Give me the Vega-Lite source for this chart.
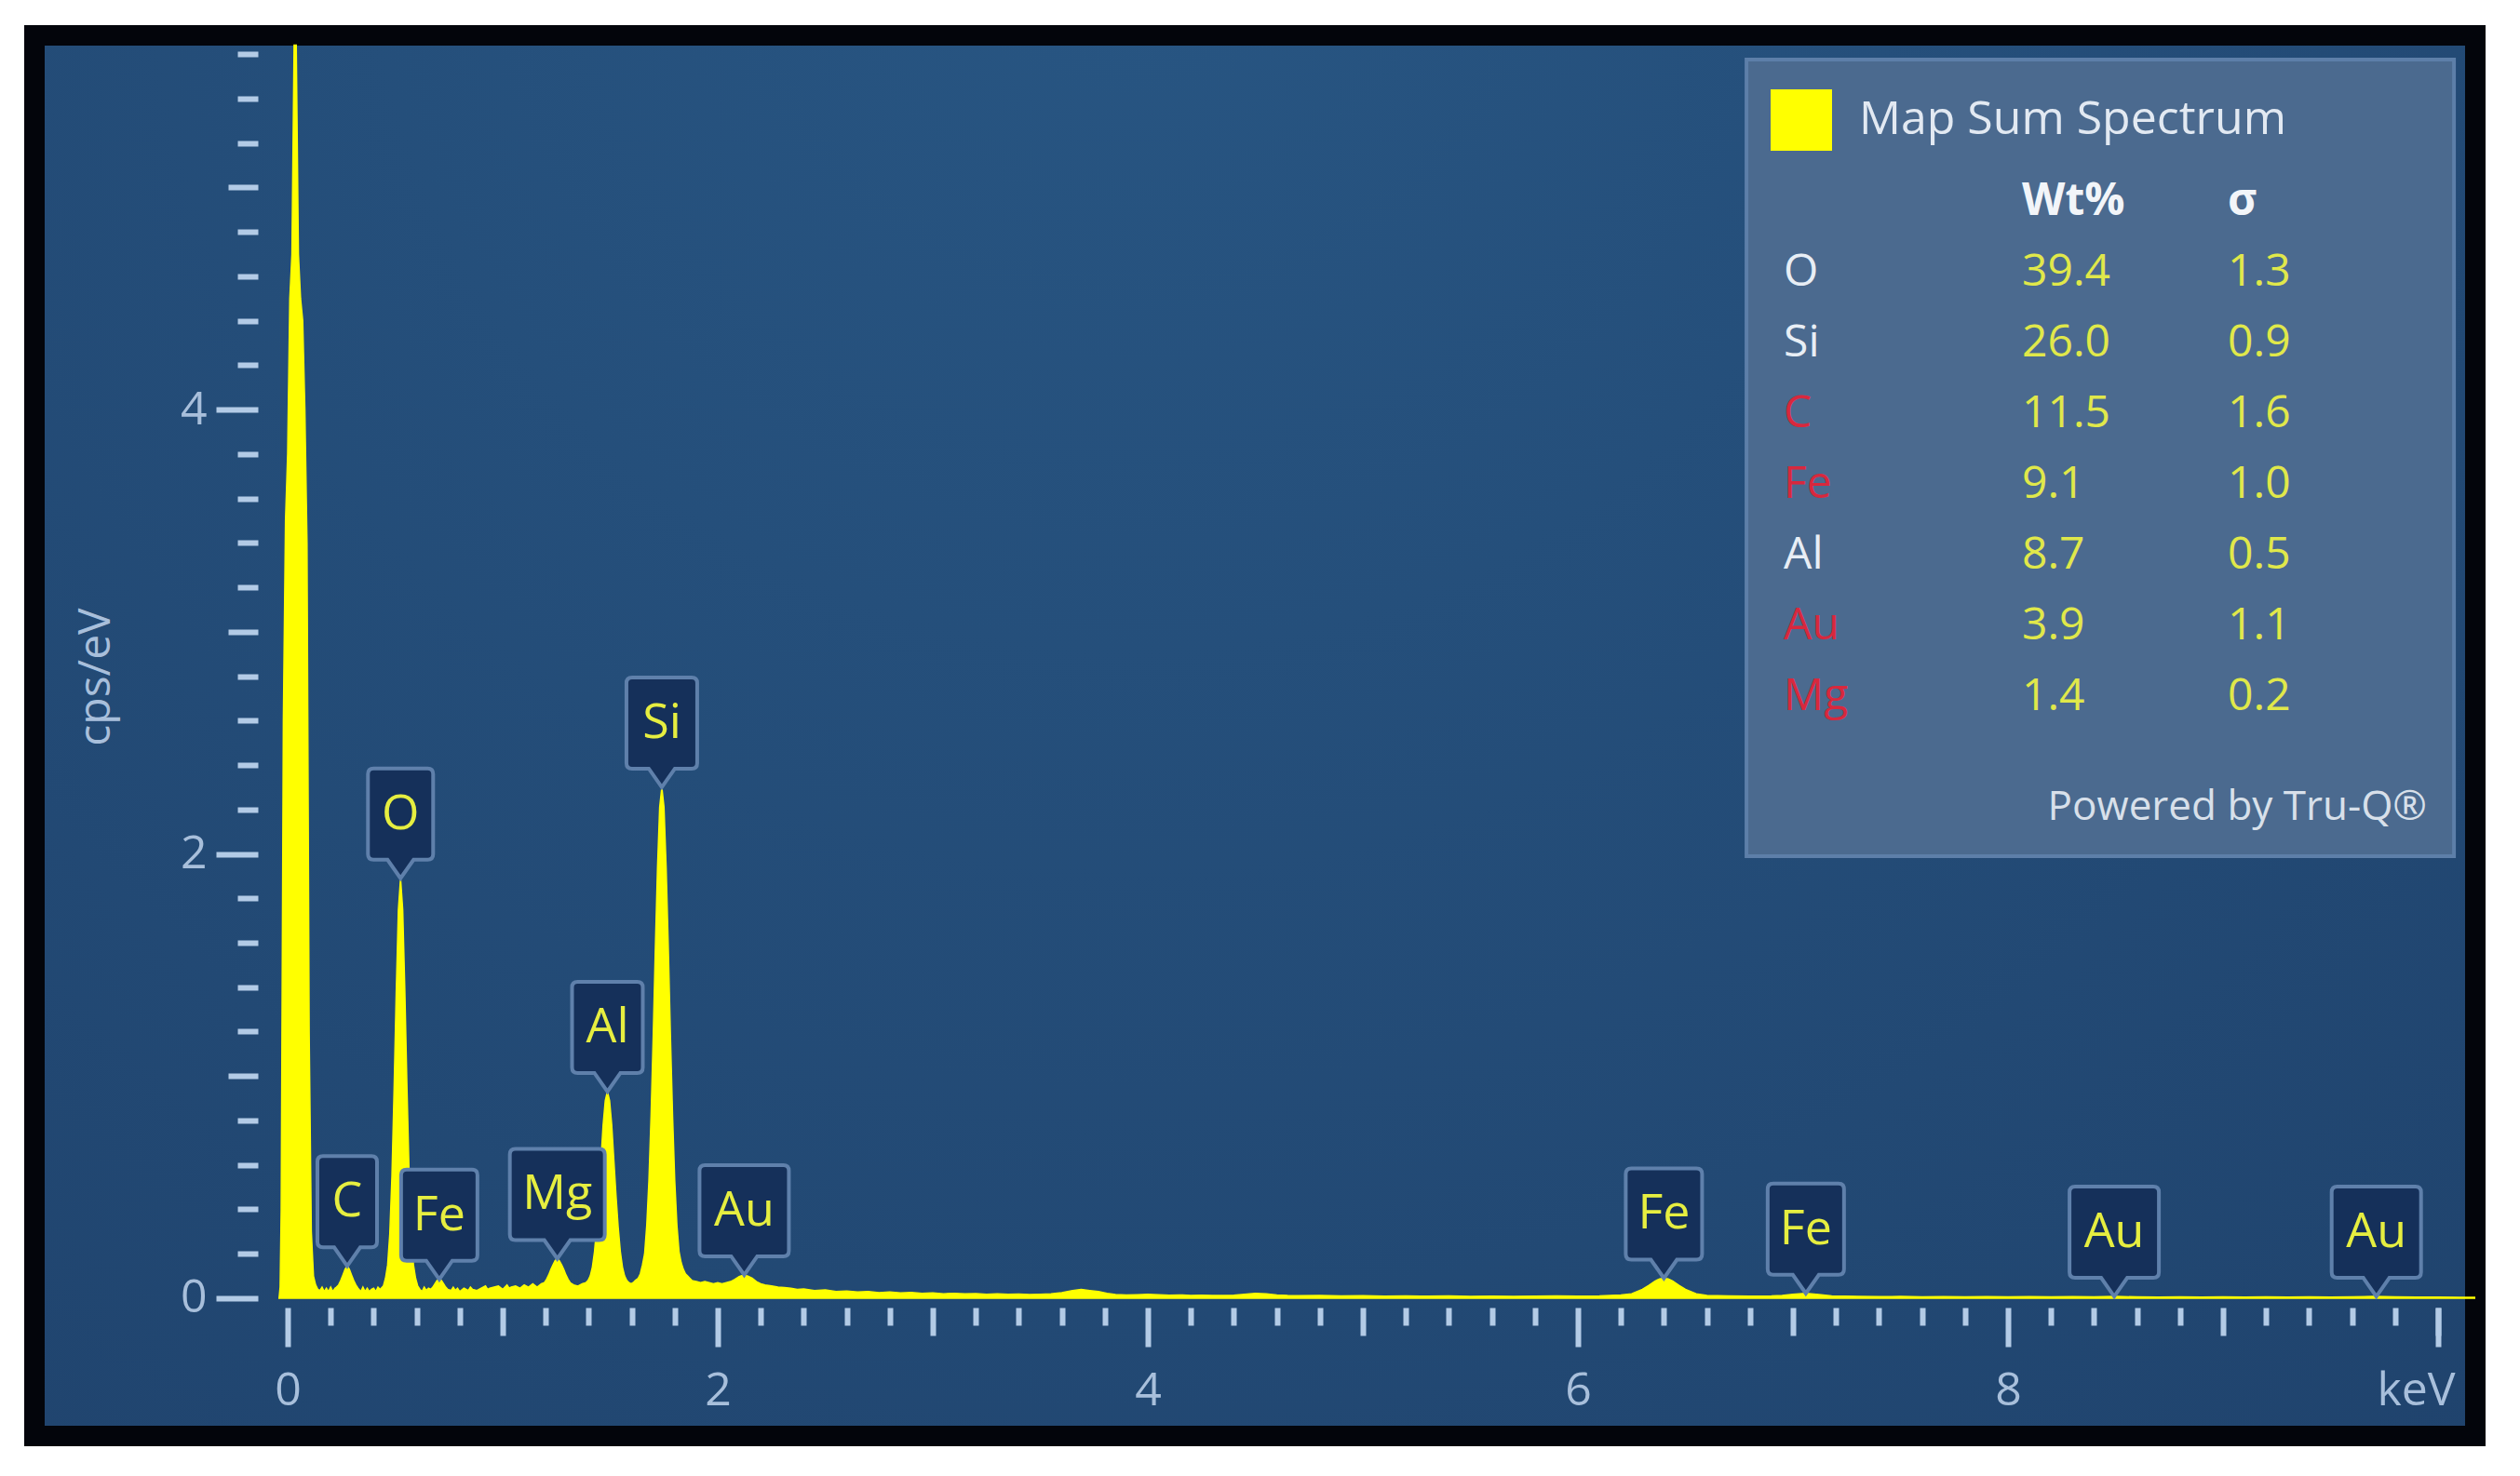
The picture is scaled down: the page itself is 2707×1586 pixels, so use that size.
{
  "$schema": "https://vega.github.io/schema/vega-lite/v6.json",
  "width": 2622,
  "height": 1505,
  "autosize": {"type": "none"},
  "padding": {"left": 37, "top": 38, "right": 48, "bottom": 43},
  "background": "#ffffff",
  "view": {
    "fill": {"gradient": "radial", "x1": 0.45, "y1": 0.15, "r1": 0, "x2": 0.45, "y2": 0.15, "r2": 0.9,
      "stops": [{"offset": 0, "color": "#285683"}, {"offset": 1, "color": "#1f426c"}]},
    "stroke": "#03050b",
    "strokeWidth": 22
  },
  "config": {"font": "Open Sans"},
  "datasets": {
    "spectrum": [
      {"energy": -0.04, "cps": 0}, {"energy": -0.035, "cps": 0.05}, {"energy": -0.03, "cps": 0.4}, {"energy": -0.02, "cps": 2.6}, {"energy": -0.01, "cps": 3.5},
      {"energy": 0.0, "cps": 3.8}, {"energy": 0.01, "cps": 4.5}, {"energy": 0.02, "cps": 4.7}, {"energy": 0.03, "cps": 5.64},
      {"energy": 0.04, "cps": 5.64}, {"energy": 0.05, "cps": 4.7}, {"energy": 0.06, "cps": 4.5}, {"energy": 0.07, "cps": 4.4},
      {"energy": 0.08, "cps": 4.0}, {"energy": 0.09, "cps": 3.4}, {"energy": 0.10, "cps": 1.2}, {"energy": 0.11, "cps": 0.3},
      {"energy": 0.12, "cps": 0.1}, {"energy": 0.13, "cps": 0.06}, {"energy": 0.14, "cps": 0.04}, {"energy": 0.15, "cps": 0.035},
      {"energy": 0.16, "cps": 0.05}, {"energy": 0.17, "cps": 0.03}, {"energy": 0.18, "cps": 0.045}, {"energy": 0.19, "cps": 0.03},
      {"energy": 0.20, "cps": 0.05}, {"energy": 0.21, "cps": 0.03}, {"energy": 0.22, "cps": 0.045}, {"energy": 0.227, "cps": 0.05},
      {"energy": 0.237, "cps": 0.06}, {"energy": 0.247, "cps": 0.08}, {"energy": 0.257, "cps": 0.105}, {"energy": 0.267, "cps": 0.13},
      {"energy": 0.277, "cps": 0.145}, {"energy": 0.287, "cps": 0.13}, {"energy": 0.297, "cps": 0.105}, {"energy": 0.307, "cps": 0.08},
      {"energy": 0.317, "cps": 0.06}, {"energy": 0.327, "cps": 0.045}, {"energy": 0.34, "cps": 0.03}, {"energy": 0.35, "cps": 0.05},
      {"energy": 0.36, "cps": 0.03}, {"energy": 0.37, "cps": 0.045}, {"energy": 0.38, "cps": 0.03}, {"energy": 0.39, "cps": 0.04},
      {"energy": 0.40, "cps": 0.045}, {"energy": 0.41, "cps": 0.03}, {"energy": 0.42, "cps": 0.05}, {"energy": 0.43, "cps": 0.04},
      {"energy": 0.445, "cps": 0.055}, {"energy": 0.455, "cps": 0.09}, {"energy": 0.465, "cps": 0.15}, {"energy": 0.475, "cps": 0.29},
      {"energy": 0.485, "cps": 0.55}, {"energy": 0.495, "cps": 0.94}, {"energy": 0.505, "cps": 1.38}, {"energy": 0.515, "cps": 1.75},
      {"energy": 0.525, "cps": 1.89}, {"energy": 0.535, "cps": 1.75}, {"energy": 0.545, "cps": 1.38}, {"energy": 0.555, "cps": 0.94},
      {"energy": 0.565, "cps": 0.55}, {"energy": 0.575, "cps": 0.29}, {"energy": 0.585, "cps": 0.15}, {"energy": 0.595, "cps": 0.09},
      {"energy": 0.605, "cps": 0.055}, {"energy": 0.615, "cps": 0.04}, {"energy": 0.625, "cps": 0.03}, {"energy": 0.635, "cps": 0.05},
      {"energy": 0.645, "cps": 0.035}, {"energy": 0.655, "cps": 0.045}, {"energy": 0.665, "cps": 0.04}, {"energy": 0.675, "cps": 0.05},
      {"energy": 0.685, "cps": 0.065}, {"energy": 0.695, "cps": 0.08}, {"energy": 0.705, "cps": 0.085}, {"energy": 0.715, "cps": 0.08},
      {"energy": 0.725, "cps": 0.065}, {"energy": 0.735, "cps": 0.05}, {"energy": 0.745, "cps": 0.04}, {"energy": 0.76, "cps": 0.035},
      {"energy": 0.77, "cps": 0.05}, {"energy": 0.78, "cps": 0.035}, {"energy": 0.79, "cps": 0.045}, {"energy": 0.80, "cps": 0.03},
      {"energy": 0.82, "cps": 0.045}, {"energy": 0.84, "cps": 0.035}, {"energy": 0.85, "cps": 0.05},
      {"energy": 0.86, "cps": 0.04}, {"energy": 0.88, "cps": 0.035}, {"energy": 0.90, "cps": 0.045}, {"energy": 0.92, "cps": 0.055},
      {"energy": 0.93, "cps": 0.04}, {"energy": 0.94, "cps": 0.045}, {"energy": 0.96, "cps": 0.05}, {"energy": 0.98, "cps": 0.055}, {"energy": 1.00, "cps": 0.04},
      {"energy": 1.02, "cps": 0.06}, {"energy": 1.03, "cps": 0.045}, {"energy": 1.04, "cps": 0.05}, {"energy": 1.06, "cps": 0.055}, {"energy": 1.08, "cps": 0.045},
      {"energy": 1.10, "cps": 0.06}, {"energy": 1.12, "cps": 0.05}, {"energy": 1.14, "cps": 0.065}, {"energy": 1.16, "cps": 0.05},
      {"energy": 1.18, "cps": 0.065}, {"energy": 1.194, "cps": 0.07}, {"energy": 1.204, "cps": 0.085}, {"energy": 1.214, "cps": 0.105},
      {"energy": 1.224, "cps": 0.13}, {"energy": 1.234, "cps": 0.15}, {"energy": 1.244, "cps": 0.17}, {"energy": 1.254, "cps": 0.178},
      {"energy": 1.264, "cps": 0.168}, {"energy": 1.274, "cps": 0.15}, {"energy": 1.284, "cps": 0.13}, {"energy": 1.294, "cps": 0.105},
      {"energy": 1.304, "cps": 0.085}, {"energy": 1.314, "cps": 0.07}, {"energy": 1.33, "cps": 0.06}, {"energy": 1.35, "cps": 0.055},
      {"energy": 1.37, "cps": 0.065}, {"energy": 1.387, "cps": 0.07}, {"energy": 1.397, "cps": 0.08}, {"energy": 1.407, "cps": 0.10},
      {"energy": 1.417, "cps": 0.14}, {"energy": 1.427, "cps": 0.21}, {"energy": 1.437, "cps": 0.32}, {"energy": 1.447, "cps": 0.46},
      {"energy": 1.457, "cps": 0.62}, {"energy": 1.467, "cps": 0.78}, {"energy": 1.477, "cps": 0.89}, {"energy": 1.487, "cps": 0.93},
      {"energy": 1.497, "cps": 0.89}, {"energy": 1.507, "cps": 0.78}, {"energy": 1.517, "cps": 0.62}, {"energy": 1.527, "cps": 0.46},
      {"energy": 1.537, "cps": 0.32}, {"energy": 1.547, "cps": 0.21}, {"energy": 1.557, "cps": 0.14}, {"energy": 1.567, "cps": 0.10},
      {"energy": 1.577, "cps": 0.08}, {"energy": 1.587, "cps": 0.07}, {"energy": 1.597, "cps": 0.065}, {"energy": 1.607, "cps": 0.07},
      {"energy": 1.617, "cps": 0.08}, {"energy": 1.63, "cps": 0.09}, {"energy": 1.64, "cps": 0.11}, {"energy": 1.65, "cps": 0.15},
      {"energy": 1.66, "cps": 0.20}, {"energy": 1.67, "cps": 0.33}, {"energy": 1.68, "cps": 0.53}, {"energy": 1.69, "cps": 0.82},
      {"energy": 1.70, "cps": 1.18}, {"energy": 1.71, "cps": 1.58}, {"energy": 1.72, "cps": 1.94}, {"energy": 1.73, "cps": 2.21},
      {"energy": 1.74, "cps": 2.30}, {"energy": 1.75, "cps": 2.21}, {"energy": 1.76, "cps": 1.94}, {"energy": 1.77, "cps": 1.58},
      {"energy": 1.78, "cps": 1.18}, {"energy": 1.79, "cps": 0.82}, {"energy": 1.80, "cps": 0.53}, {"energy": 1.81, "cps": 0.33},
      {"energy": 1.82, "cps": 0.21}, {"energy": 1.83, "cps": 0.16}, {"energy": 1.84, "cps": 0.13}, {"energy": 1.85, "cps": 0.11},
      {"energy": 1.86, "cps": 0.10}, {"energy": 1.87, "cps": 0.09}, {"energy": 1.88, "cps": 0.08}, {"energy": 1.90, "cps": 0.075},
      {"energy": 1.92, "cps": 0.07}, {"energy": 1.94, "cps": 0.075}, {"energy": 1.96, "cps": 0.07}, {"energy": 1.98, "cps": 0.065},
      {"energy": 2.00, "cps": 0.07}, {"energy": 2.02, "cps": 0.065}, {"energy": 2.04, "cps": 0.07}, {"energy": 2.06, "cps": 0.075},
      {"energy": 2.08, "cps": 0.085}, {"energy": 2.10, "cps": 0.098}, {"energy": 2.12, "cps": 0.105}, {"energy": 2.14, "cps": 0.10},
      {"energy": 2.16, "cps": 0.09}, {"energy": 2.18, "cps": 0.075}, {"energy": 2.20, "cps": 0.065}, {"energy": 2.22, "cps": 0.06},
      {"energy": 2.25, "cps": 0.055}, {"energy": 2.28, "cps": 0.05}, {"energy": 2.31, "cps": 0.048}, {"energy": 2.34, "cps": 0.045},
      {"energy": 2.37, "cps": 0.04}, {"energy": 2.40, "cps": 0.042}, {"energy": 2.45, "cps": 0.035}, {"energy": 2.50, "cps": 0.038},
      {"energy": 2.55, "cps": 0.03}, {"energy": 2.60, "cps": 0.032}, {"energy": 2.65, "cps": 0.028}, {"energy": 2.70, "cps": 0.03},
      {"energy": 2.75, "cps": 0.025}, {"energy": 2.80, "cps": 0.028}, {"energy": 2.85, "cps": 0.024}, {"energy": 2.90, "cps": 0.026},
      {"energy": 2.95, "cps": 0.022}, {"energy": 3.00, "cps": 0.024}, {"energy": 3.05, "cps": 0.02}, {"energy": 3.10, "cps": 0.022},
      {"energy": 3.15, "cps": 0.02}, {"energy": 3.20, "cps": 0.021}, {"energy": 3.25, "cps": 0.018}, {"energy": 3.30, "cps": 0.02},
      {"energy": 3.35, "cps": 0.018}, {"energy": 3.40, "cps": 0.019}, {"energy": 3.45, "cps": 0.017}, {"energy": 3.50, "cps": 0.018},
      {"energy": 3.55, "cps": 0.02}, {"energy": 3.60, "cps": 0.025}, {"energy": 3.65, "cps": 0.035}, {"energy": 3.69, "cps": 0.04},
      {"energy": 3.73, "cps": 0.035}, {"energy": 3.77, "cps": 0.03}, {"energy": 3.81, "cps": 0.022}, {"energy": 3.85, "cps": 0.017},
      {"energy": 3.90, "cps": 0.015}, {"energy": 3.95, "cps": 0.016}, {"energy": 4.00, "cps": 0.018}, {"energy": 4.05, "cps": 0.016},
      {"energy": 4.10, "cps": 0.014}, {"energy": 4.15, "cps": 0.015}, {"energy": 4.20, "cps": 0.013}, {"energy": 4.25, "cps": 0.014},
      {"energy": 4.30, "cps": 0.012}, {"energy": 4.35, "cps": 0.013}, {"energy": 4.40, "cps": 0.014}, {"energy": 4.45, "cps": 0.018},
      {"energy": 4.50, "cps": 0.022}, {"energy": 4.55, "cps": 0.02}, {"energy": 4.60, "cps": 0.015}, {"energy": 4.65, "cps": 0.012},
      {"energy": 4.70, "cps": 0.011}, {"energy": 4.80, "cps": 0.012}, {"energy": 4.90, "cps": 0.01}, {"energy": 5.00, "cps": 0.011},
      {"energy": 5.10, "cps": 0.009}, {"energy": 5.20, "cps": 0.01}, {"energy": 5.30, "cps": 0.009}, {"energy": 5.40, "cps": 0.01},
      {"energy": 5.50, "cps": 0.008}, {"energy": 5.60, "cps": 0.009}, {"energy": 5.70, "cps": 0.008}, {"energy": 5.80, "cps": 0.009},
      {"energy": 5.90, "cps": 0.01}, {"energy": 6.00, "cps": 0.009}, {"energy": 6.10, "cps": 0.01}, {"energy": 6.20, "cps": 0.015},
      {"energy": 6.25, "cps": 0.02}, {"energy": 6.30, "cps": 0.04}, {"energy": 6.33, "cps": 0.058}, {"energy": 6.36, "cps": 0.078},
      {"energy": 6.38, "cps": 0.087}, {"energy": 6.40, "cps": 0.09}, {"energy": 6.42, "cps": 0.087}, {"energy": 6.44, "cps": 0.078},
      {"energy": 6.47, "cps": 0.058}, {"energy": 6.50, "cps": 0.04}, {"energy": 6.55, "cps": 0.02}, {"energy": 6.60, "cps": 0.013},
      {"energy": 6.70, "cps": 0.01}, {"energy": 6.80, "cps": 0.009}, {"energy": 6.90, "cps": 0.01}, {"energy": 6.95, "cps": 0.012},
      {"energy": 7.00, "cps": 0.018}, {"energy": 7.06, "cps": 0.022}, {"energy": 7.12, "cps": 0.017}, {"energy": 7.18, "cps": 0.01},
      {"energy": 7.30, "cps": 0.008}, {"energy": 7.40, "cps": 0.007}, {"energy": 7.50, "cps": 0.008}, {"energy": 7.60, "cps": 0.006},
      {"energy": 7.70, "cps": 0.007}, {"energy": 7.80, "cps": 0.006}, {"energy": 7.90, "cps": 0.007}, {"energy": 8.00, "cps": 0.006},
      {"energy": 8.10, "cps": 0.007}, {"energy": 8.20, "cps": 0.006}, {"energy": 8.30, "cps": 0.007}, {"energy": 8.40, "cps": 0.006},
      {"energy": 8.50, "cps": 0.008}, {"energy": 8.60, "cps": 0.006}, {"energy": 8.70, "cps": 0.005}, {"energy": 8.80, "cps": 0.006},
      {"energy": 8.90, "cps": 0.005}, {"energy": 9.00, "cps": 0.006}, {"energy": 9.10, "cps": 0.005}, {"energy": 9.20, "cps": 0.006},
      {"energy": 9.30, "cps": 0.005}, {"energy": 9.40, "cps": 0.006}, {"energy": 9.50, "cps": 0.005}, {"energy": 9.60, "cps": 0.006},
      {"energy": 9.70, "cps": 0.008}, {"energy": 9.80, "cps": 0.006}, {"energy": 9.90, "cps": 0.005}, {"energy": 10.00, "cps": 0.005},
      {"energy": 10.10, "cps": 0.004}, {"energy": 10.17, "cps": 0.004}
    ],
    "peaks": [
      {"element": "C", "energy": 0.277, "height": 0.145},
      {"element": "O", "energy": 0.525, "height": 1.89},
      {"element": "Fe", "energy": 0.705, "height": 0.085},
      {"element": "Mg", "energy": 1.254, "height": 0.178},
      {"element": "Al", "energy": 1.487, "height": 0.93},
      {"element": "Si", "energy": 1.74, "height": 2.3},
      {"element": "Au", "energy": 2.123, "height": 0.105},
      {"element": "Fe", "energy": 6.4, "height": 0.09},
      {"element": "Fe", "energy": 7.06, "height": 0.022},
      {"element": "Au", "energy": 8.494, "height": 0.008},
      {"element": "Au", "energy": 9.713, "height": 0.008}
    ],
    "quant": [
      {"element": "O", "wt": 39.4, "sigma": 1.3},
      {"element": "Si", "wt": 26.0, "sigma": 0.9},
      {"element": "C", "wt": 11.5, "sigma": 1.6},
      {"element": "Fe", "wt": 9.1, "sigma": 1.0},
      {"element": "Al", "wt": 8.7, "sigma": 0.5},
      {"element": "Au", "wt": 3.9, "sigma": 1.1},
      {"element": "Mg", "wt": 1.4, "sigma": 0.2}
    ]
  },
  "layer": [
    {
      "layer": [
        {
          "data": {"name": "spectrum"},
          "mark": {"type": "area", "fill": "#ffff00", "stroke": "#ffff00", "strokeWidth": 1.5, "opacity": 1},
          "encoding": {
            "x": {
              "field": "energy", "type": "quantitative",
              "scale": {"domain": [-1.1775, 10.1732], "nice": false, "zero": false},
              "axis": {
                "orient": "bottom", "offset": -138, "title": null, "domain": false, "grid": false,
                "values": [0, 2, 4, 6, 8, 10],
                "tickColor": "#b3cbe6", "tickWidth": 6, "tickSize": 42,
                "labelExpr": "datum.value == 10 ? '' : '' + datum.value",
                "labelFont": "Open Sans", "labelFontSize": 50, "labelColor": "#a8bfdb", "labelPadding": 22,
                "labelOverlap": false, "labelFlush": false, "labelBound": false
              }
            },
            "y": {
              "field": "cps", "type": "quantitative",
              "scale": {"domain": [-0.62, 5.684], "nice": false, "zero": false},
              "axis": {
                "orient": "left", "offset": -240, "title": "cps/eV", "domain": false, "grid": false,
                "values": [0, 2, 4],
                "tickColor": "#b3cbe6", "tickWidth": 6, "tickSize": 45,
                "labelExpr": "'' + datum.value",
                "labelFont": "Open Sans", "labelFontSize": 50, "labelColor": "#a8bfdb", "labelPadding": 10,
                "labelOverlap": false, "labelFlush": false, "labelBound": false,
                "titleFont": "Open Sans", "titleFontSize": 48, "titleFontWeight": "normal", "titleColor": "#a8bfdb",
                "titleX": -174, "titleY": 689, "titleAngle": -90, "titleBaseline": "middle", "titleAlign": "center"
              }
            },
            "color": {
              "datum": "Map Sum Spectrum", "type": "nominal",
              "scale": {"range": ["#ffff00"]},
              "legend": {
                "orient": "none", "legendX": 1865, "legendY": 58, "title": null, "padding": 0,
                "symbolType": "square", "symbolSize": 4356, "symbolStrokeWidth": 0, "symbolOpacity": 1,
                "labelFont": "Open Sans", "labelFontSize": 50, "labelColor": "#e2e9f2", "labelOffset": 29, "labelLimit": 0
              }
            }
          }
        },
        {
          "data": {"name": "peaks"},
          "mark": {"type": "point", "filled": true, "fill": "#15305a", "stroke": "#5f80ab", "strokeWidth": 4, "size": 4, "opacity": 1},
          "encoding": {
            "x": {
              "field": "energy", "type": "quantitative",
              "scale": {"domain": [-1.1775, 10.1732], "nice": false, "zero": false},
              "axis": {
                "orient": "bottom", "offset": -138, "title": null, "domain": false, "grid": false,
                "values": [1, 3, 5, 7, 9, 10],
                "tickColor": "#b3cbe6", "tickWidth": 6, "tickSize": 30,
                "labelExpr": "datum.value == 10 ? 'keV' : ''",
                "labelOffset": -24,
                "labelFont": "Open Sans", "labelFontSize": 50, "labelColor": "#a8bfdb", "labelPadding": 34,
                "labelOverlap": false, "labelFlush": false, "labelBound": false
              }
            },
            "y": {
              "field": "height", "type": "quantitative",
              "scale": {"domain": [-0.62, 5.684], "nice": false, "zero": false},
              "axis": {
                "orient": "left", "offset": -240, "title": null, "domain": false, "grid": false, "labels": false,
                "values": [1, 3, 5],
                "tickColor": "#b3cbe6", "tickWidth": 6, "tickSize": 32
              }
            },
            "shape": {
              "field": "element", "type": "nominal", "legend": null,
              "scale": {
                "domain": ["C", "O", "Si", "Al", "Fe", "Mg", "Au"],
                "range": [
                  "M0,0 L-14,-20 L-26,-20 Q-32,-20 -32,-26 L-32,-112 Q-32,-118 -26,-118 L26,-118 Q32,-118 32,-112 L32,-26 Q32,-20 26,-20 L14,-20 Z",
                  "M0,0 L-14,-20 L-29,-20 Q-35,-20 -35,-26 L-35,-112 Q-35,-118 -29,-118 L29,-118 Q35,-118 35,-112 L35,-26 Q35,-20 29,-20 L14,-20 Z",
                  "M0,0 L-14,-20 L-32,-20 Q-38,-20 -38,-26 L-38,-112 Q-38,-118 -32,-118 L32,-118 Q38,-118 38,-112 L38,-26 Q38,-20 32,-20 L14,-20 Z",
                  "M0,0 L-14,-20 L-32,-20 Q-38,-20 -38,-26 L-38,-112 Q-38,-118 -32,-118 L32,-118 Q38,-118 38,-112 L38,-26 Q38,-20 32,-20 L14,-20 Z",
                  "M0,0 L-14,-20 L-35,-20 Q-41,-20 -41,-26 L-41,-112 Q-41,-118 -35,-118 L35,-118 Q41,-118 41,-112 L41,-26 Q41,-20 35,-20 L14,-20 Z",
                  "M0,0 L-14,-20 L-45,-20 Q-51,-20 -51,-26 L-51,-112 Q-51,-118 -45,-118 L45,-118 Q51,-118 51,-112 L51,-26 Q51,-20 45,-20 L14,-20 Z",
                  "M0,0 L-14,-20 L-42,-20 Q-48,-20 -48,-26 L-48,-112 Q-48,-118 -42,-118 L42,-118 Q48,-118 48,-112 L48,-26 Q48,-20 42,-20 L14,-20 Z"
                ]
              }
            }
          }
        },
        {
          "data": {"name": "peaks"},
          "mark": {"type": "text", "dy": -69, "fontSize": 52, "font": "Open Sans", "color": "#e6ee40", "baseline": "middle", "align": "center"},
          "encoding": {
            "x": {
              "field": "energy", "type": "quantitative",
              "scale": {"domain": [-1.1775, 10.1732], "nice": false, "zero": false},
              "axis": {
                "orient": "bottom", "offset": -138, "title": null, "domain": false, "grid": false, "labels": false,
                "values": [0.2, 0.4, 0.6, 0.8, 1.2, 1.4, 1.6, 1.8, 2.2, 2.4, 2.6, 2.8, 3.2, 3.4, 3.6, 3.8, 4.2, 4.4, 4.6, 4.8, 5.2, 5.4, 5.6, 5.8, 6.2, 6.4, 6.6, 6.8, 7.2, 7.4, 7.6, 7.8, 8.2, 8.4, 8.6, 8.8, 9.2, 9.4, 9.6, 9.8],
                "tickColor": "#b3cbe6", "tickWidth": 6, "tickSize": 19
              }
            },
            "y": {
              "field": "height", "type": "quantitative",
              "scale": {"domain": [-0.62, 5.684], "nice": false, "zero": false},
              "axis": {
                "orient": "left", "offset": -240, "title": null, "domain": false, "grid": false, "labels": false,
                "values": [0.2, 0.4, 0.6, 0.8, 1.2, 1.4, 1.6, 1.8, 2.2, 2.4, 2.6, 2.8, 3.2, 3.4, 3.6, 3.8, 4.2, 4.4, 4.6, 4.8, 5.2, 5.4, 5.6],
                "tickColor": "#b3cbe6", "tickWidth": 6, "tickSize": 22
              }
            },
            "text": {"field": "element"}
          }
        }
      ],
      "resolve": {"axis": {"x": "independent", "y": "independent"}}
    },
    {
      "layer": [
        {
          "data": {"values": [{}]},
          "mark": {"type": "rect", "fill": "#4b6a8f", "stroke": "#5d7fa9", "strokeWidth": 4},
          "encoding": {
            "x": {"datum": 6.784, "type": "quantitative", "scale": {"domain": [-1.1775, 10.1732], "nice": false, "zero": false}, "axis": null},
            "x2": {"datum": 10.074},
            "y": {"datum": -2.013, "type": "quantitative", "scale": {"domain": [-2.355, 17.447], "reverse": true, "nice": false, "zero": false}, "axis": null},
            "y2": {"datum": 9.25}
          }
        },
        {
          "data": {"values": [{}]},
          "mark": {"type": "text", "text": "Wt%", "fontWeight": "bold", "fontSize": 48, "font": "Open Sans", "color": "#f2f5f9", "align": "left", "baseline": "middle"},
          "encoding": {
            "x": {"datum": 8.065, "type": "quantitative", "axis": null},
            "y": {"datum": 0, "type": "quantitative", "axis": null}
          }
        },
        {
          "data": {"values": [{}]},
          "mark": {"type": "text", "text": "σ", "fontWeight": "bold", "fontSize": 48, "font": "Open Sans", "color": "#f2f5f9", "align": "left", "baseline": "middle"},
          "encoding": {
            "x": {"datum": 9.022, "type": "quantitative", "axis": null},
            "y": {"datum": 0, "type": "quantitative", "axis": null}
          }
        },
        {
          "data": {"name": "quant"},
          "transform": [{"window": [{"op": "row_number", "as": "row"}], "sort": [{"field": "wt", "order": "descending"}]}],
          "mark": {"type": "text", "fontSize": 48, "font": "Open Sans", "align": "left", "baseline": "middle"},
          "encoding": {
            "x": {"datum": 6.957, "type": "quantitative", "axis": null},
            "y": {"field": "row", "type": "quantitative", "axis": null},
            "text": {"field": "element"},
            "color": {"condition": {"test": "indexof(['C','Fe','Au','Mg'], datum.element) >= 0", "value": "#d8283d"}, "value": "#e8eef5"}
          }
        },
        {
          "data": {"name": "quant"},
          "transform": [{"window": [{"op": "row_number", "as": "row"}], "sort": [{"field": "wt", "order": "descending"}]}],
          "mark": {"type": "text", "fontSize": 48, "font": "Open Sans", "align": "left", "baseline": "middle", "color": "#e0e84a"},
          "encoding": {
            "x": {"datum": 8.065, "type": "quantitative", "axis": null},
            "y": {"field": "row", "type": "quantitative", "axis": null},
            "text": {"field": "wt", "type": "quantitative", "format": ".1f"}
          }
        },
        {
          "data": {"name": "quant"},
          "transform": [{"window": [{"op": "row_number", "as": "row"}], "sort": [{"field": "wt", "order": "descending"}]}],
          "mark": {"type": "text", "fontSize": 48, "font": "Open Sans", "align": "left", "baseline": "middle", "color": "#e0e84a"},
          "encoding": {
            "x": {"datum": 9.022, "type": "quantitative", "axis": null},
            "y": {"field": "row", "type": "quantitative", "axis": null},
            "text": {"field": "sigma", "type": "quantitative", "format": ".1f"}
          }
        },
        {
          "data": {"values": [{}]},
          "mark": {"type": "text", "text": "Powered by Tru-Q®", "fontSize": 44, "font": "Open Sans", "color": "#d8e0ea", "align": "right", "baseline": "middle"},
          "encoding": {
            "x": {"datum": 9.948, "type": "quantitative", "axis": null},
            "y": {"datum": 8.566, "type": "quantitative", "axis": null}
          }
        }
      ]
    }
  ],
  "resolve": {"scale": {"y": "independent"}}
}
